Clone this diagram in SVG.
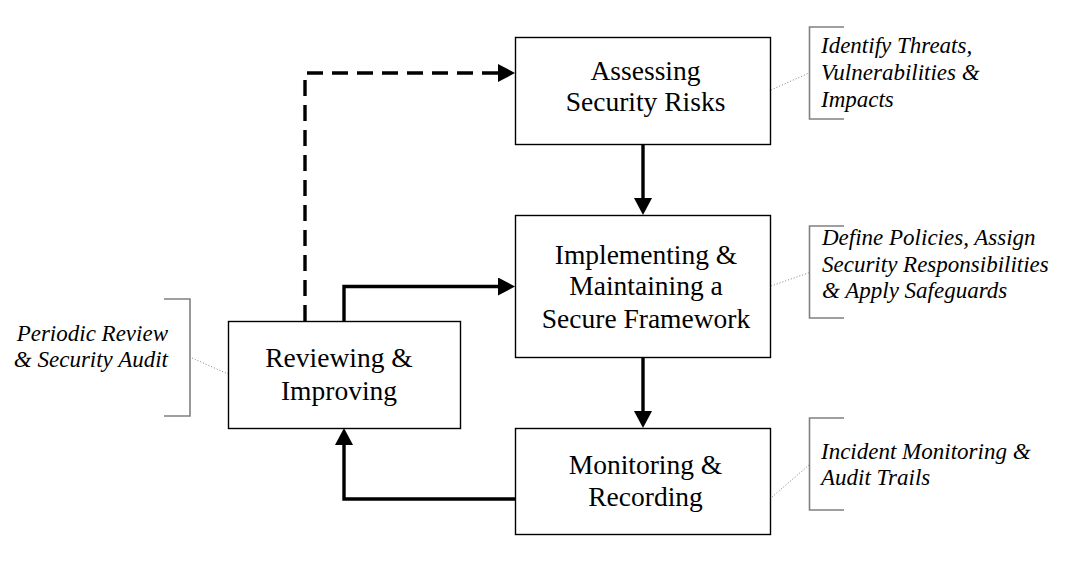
<svg xmlns="http://www.w3.org/2000/svg" width="1073" height="563" viewBox="0 0 1073 563">
<defs>
<marker id="arr" markerUnits="userSpaceOnUse" markerWidth="17" markerHeight="18" viewBox="0 0 17 18" refX="0" refY="9" orient="auto">
<path d="M0,0 L17,9 L0,18 z" fill="#000"/>
</marker>
<style>
.box{fill:#fff;stroke:#000;stroke-width:1.4}
.lbl{font-family:"Liberation Serif","Times New Roman",serif;font-size:27.5px;fill:#000;text-anchor:middle}
.ann{font-family:"Liberation Serif","Times New Roman",serif;font-size:23px;font-style:italic;fill:#000}
.brk{fill:none;stroke:#808080;stroke-width:1.6}
.dot{fill:none;stroke:#808080;stroke-width:1;stroke-dasharray:1 2}
.con{fill:none;stroke:#000;stroke-width:3.4;marker-end:url(#arr)}
.dash{stroke-dasharray:16 9}
</style>
</defs>
<rect width="1073" height="563" fill="#fff"/>
<g id="connectors">
<path class="con" d="M643,144 V198"/>
<path class="con" d="M643,357 V411"/>
<path class="con" d="M515,499 H344 V445"/>
<path class="con" d="M344,321 V286.5 H498"/>
<path class="con dash" d="M305,321 V73 H498"/>
</g>
<g id="assessing">
<rect class="box" x="515.5" y="37.5" width="255" height="107"/>
<text class="lbl" x="645.5" y="80">Assessing</text>
<text class="lbl" x="645.5" y="111">Security Risks</text>
</g>
<g id="implementing">
<rect class="box" x="515.5" y="215.5" width="255" height="142"/>
<text class="lbl" x="646" y="264">Implementing &amp;</text>
<text class="lbl" x="646" y="295">Maintaining a</text>
<text class="lbl" x="646" y="327.5">Secure Framework</text>
</g>
<g id="monitoring">
<rect class="box" x="515.5" y="428.5" width="255" height="106"/>
<text class="lbl" x="645.5" y="473.5">Monitoring &amp;</text>
<text class="lbl" x="645.5" y="506">Recording</text>
</g>
<g id="reviewing">
<rect class="box" x="228.5" y="321.5" width="232" height="107"/>
<text class="lbl" x="339" y="367">Reviewing &amp;</text>
<text class="lbl" x="339" y="399.5">Improving</text>
</g>
<g id="note-assessing">
<path class="dot" d="M771,90 L809,73"/>
<path class="brk" d="M844,27 H809.5 V119 H844"/>
<text class="ann" x="821" y="53.3">Identify Threats,</text>
<text class="ann" x="821" y="80">Vulnerabilities &amp;</text>
<text class="ann" x="821" y="106.7">Impacts</text>
</g>
<g id="note-implementing">
<path class="dot" d="M771,286 L809,272.7"/>
<path class="brk" d="M844,226 H809.5 V318 H844"/>
<text class="ann" x="822" y="245">Define Policies, Assign</text>
<text class="ann" x="822" y="271.7">Security Responsibilities</text>
<text class="ann" x="822" y="298.3">&amp; Apply Safeguards</text>
</g>
<g id="note-monitoring">
<path class="dot" d="M772,497 L809,465"/>
<path class="brk" d="M844,418 H809.5 V510 H844"/>
<text class="ann" x="821" y="459">Incident Monitoring &amp;</text>
<text class="ann" x="821" y="485">Audit Trails</text>
</g>
<g id="note-reviewing">
<path class="dot" d="M192,358 L228,374"/>
<path class="brk" d="M164,299 H190 V416 H164"/>
<text class="ann" x="168" y="341" text-anchor="end">Periodic Review</text>
<text class="ann" x="168" y="367.3" text-anchor="end">&amp; Security Audit</text>
</g>
</svg>
